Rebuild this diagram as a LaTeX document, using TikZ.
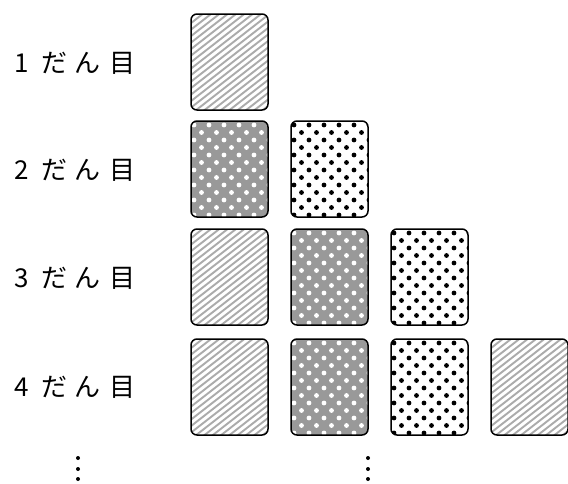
\documentclass[tikz,border=0pt]{standalone}
\usepackage{fontspec}
\newfontfamily\jp{Noto Sans CJK JP}
\tikzset{
  cardedge/.style={draw=black, line width=1.5pt, rounded corners=6pt},
  hatchline/.style={draw=black!33, line width=1.9pt},
  label/.style={anchor=west, inner sep=0pt, font=\jp\fontsize{26pt}{26pt}\selectfont},
  vdot/.style={fill=black}
}
\newcommand\mycard[3]{%
  \begin{scope}[shift={(#2,#3)}]
    \begin{scope}
      \clip[rounded corners=6pt] (0,0) rectangle (77,96);
      \ifcase#1
        \fill[white] (0,0) rectangle (77,96);
        \foreach \k in {-2,...,26} \draw[hatchline] (-5,\k*6.5) -- ++(100,-78);
      \or
        \fill[black!40] (0,0) rectangle (77,96);
        \foreach \j in {0,...,13} {
          \pgfmathsetmacro\off{mod(\j,2)*7.5}
          \foreach \i in {0,...,5} \fill[white] (3+\i*15+\off,4+\j*7.5) circle (2.4pt);
        }
      \or
        \fill[white] (0,0) rectangle (77,96);
        \foreach \j in {0,...,13} {
          \pgfmathsetmacro\off{mod(\j,2)*7.5}
          \foreach \i in {0,...,5} \fill[black] (3+\i*15+\off,4+\j*7.5) circle (2.4pt);
        }
      \fi
    \end{scope}
    \draw[cardedge] (0,0) rectangle (77,96);
  \end{scope}}
\begin{document}
\begin{tikzpicture}[x=1pt,y=-1pt]
\useasboundingbox (0,0) rectangle (568,483);
% row labels
\node[label] (r1) at (14,63) {1\hspace{13pt}だ\hspace{7pt}ん\hspace{9pt}目};
\node[label] (r2) at (14,170) {2\hspace{13pt}だ\hspace{7pt}ん\hspace{9pt}目};
\node[label] (r3) at (14,278) {3\hspace{13pt}だ\hspace{7pt}ん\hspace{9pt}目};
\node[label] (r4) at (14,387) {4\hspace{13pt}だ\hspace{7pt}ん\hspace{9pt}目};
% cards
\mycard{0}{191}{14}
\mycard{1}{191}{121}
\mycard{2}{291}{121}
\mycard{0}{191}{229}
\mycard{1}{291}{229}
\mycard{2}{391}{229}
\mycard{0}{191}{339}
\mycard{1}{291}{339}
\mycard{2}{391}{339}
\mycard{0}{491}{339}
% vertical ellipses
\foreach \yy in {458,469,479} {
  \fill[vdot] (78,\yy) circle (2pt);
  \fill[vdot] (368,\yy) circle (2pt);
}
\end{tikzpicture}
\end{document}
